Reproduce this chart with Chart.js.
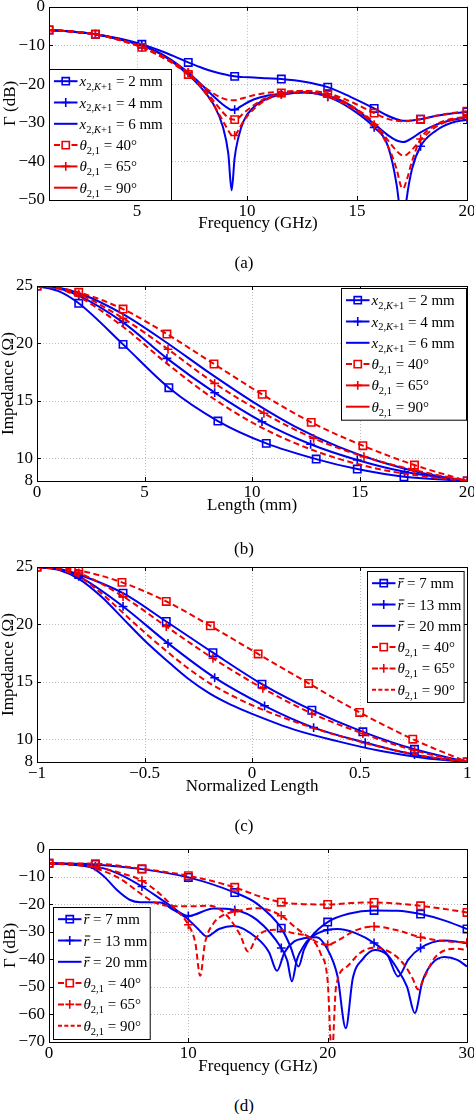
<!DOCTYPE html>
<html>
<head>
<meta charset="utf-8">
<script src="https://cdn.jsdelivr.net/npm/chart.js@4"></script>
<style>
  body { margin: 0; background: #fff; width: 474px; height: 1114px; position: relative; overflow: hidden; font-family: "Liberation Serif", serif; }
  canvas { position: absolute; left: 0; }
  .cap { position: absolute; left: 0; width: 488px; text-align: center; font-size: 17px; line-height: 20px; color: #000; }
</style>
</head>
<body>
<canvas id="chartA" width="474" height="240" style="top:0px"></canvas>
<canvas id="chartB" width="474" height="250" style="top:270px"></canvas>
<canvas id="chartC" width="474" height="250" style="top:550px"></canvas>
<canvas id="chartD" width="474" height="250" style="top:835px"></canvas>
<div class="cap" style="top:253px">(a)</div>
<div class="cap" style="top:539px">(b)</div>
<div class="cap" style="top:816px">(c)</div>
<div class="cap" style="top:1096px">(d)</div>
<script>
// ---- (a) reflection vs frequency ----
const aFreq = [1, 2, 3.11, 4.2, 5.22, 6.3, 7.33, 8, 8.5, 8.9, 9.15, 9.3, 9.44, 9.6, 9.85, 10.3, 10.9, 11.56, 12.6, 13.67, 14.7, 15.78, 16.4, 16.8, 17, 17.1, 17.25, 17.5, 17.89, 18.6, 19.3, 20];
const aMarks = [1, 3.11, 5.22, 7.33, 9.44, 11.56, 13.67, 15.78, 17.89, 20];
const aX2 = [-6, -6.4, -7.1, -8.2, -9.7, -11.9, -14.4, -15.9, -16.8, -17.4, -17.7, -17.85, -18, -18.1, -18.2, -18.3, -18.5, -18.7, -19.4, -20.8, -23.3, -26.3, -28.2, -29.1, -29.4, -29.5, -29.5, -29.4, -29.1, -28.2, -27.6, -27.2];
const aX4 = [-6, -6.4, -7.1, -8.4, -10, -12.8, -17, -20.5, -23.3, -25.3, -26.3, -26.7, -26.6, -26.2, -25.3, -24, -23, -22.5, -22.1, -23.3, -26.3, -31.2, -36, -46, -55, -58, -50, -42, -36.1, -32, -30, -29.2];
const aX6 = [-6, -6.4, -7.1, -8.4, -10, -13, -17.6, -21.5, -25.5, -31, -38, -47.5, -39, -34, -29.5, -26, -23.8, -22.8, -22.2, -23, -25.5, -30.3, -33.2, -34.6, -34.9, -35, -34.8, -34, -32.5, -30.5, -29.3, -28.6];
const aT40 = [-6, -6.4, -7.1, -8.6, -10.5, -13.5, -17.5, -21, -24.5, -27.3, -28.7, -29.1, -29.2, -28.8, -27.5, -25.5, -23.5, -22.3, -21.8, -22.4, -24.5, -27.5, -29, -29.5, -29.6, -29.6, -29.6, -29.4, -29.1, -28.2, -27.5, -27];
const aT65 = [-6, -6.4, -7.1, -8.6, -10.5, -13.5, -17, -21.5, -25.5, -29.5, -32, -33.2, -33.3, -32, -29.5, -26.5, -24, -22.7, -22.1, -23.3, -26, -30.5, -36, -42, -46.5, -47, -45, -40, -34.2, -30.5, -29, -28.5];
const aT90 = [-6, -6.4, -7.1, -8.5, -10.3, -13.2, -17.2, -20.5, -22.5, -23.7, -24.1, -24.2, -24.2, -24, -23.6, -22.9, -22.3, -22, -21.8, -22.6, -25.5, -30, -34.5, -37.3, -38.3, -38.5, -38.3, -37, -34.5, -31, -29.3, -28.5];
const aXTicks = [5, 10, 15, 20];
const aYTicks = [0, -10, -20, -30, -40, -50];

// ---- (b) impedance vs length ----
const bExtra = [1];
const bL2 = [0, 1, 1.94, 4, 6.13, 8.41, 10.66, 12.98, 14.89, 17.06, 20];
const bZ2 = [25, 24.55, 23.49, 19.91, 16.13, 13.23, 11.28, 9.91, 9.04, 8.37, 8];
const bL4 = [0, 1, 1.94, 4, 6.04, 8.26, 10.46, 12.72, 14.89, 17.09, 20];
const bZ4 = [25, 24.8, 24.16, 21.83, 18.69, 15.7, 13.17, 11.2, 9.83, 8.8, 8];
const bL6 = [0, 1, 2, 4, 6, 8, 10, 12, 14, 16, 18, 20];
const bZ6 = [25, 24.85, 24.35, 22.55, 20.1, 17.45, 14.95, 12.75, 11, 9.65, 8.65, 8];
const bL40 = [0, 1, 1.94, 4, 6.04, 8.23, 10.47, 12.75, 15.15, 17.55, 20];
const bZ40 = [25, 24.85, 24.45, 22.99, 20.81, 18.2, 15.55, 13.11, 11.08, 9.39, 8];
const bL65 = [0, 1, 1.94, 4, 6.09, 8.26, 10.55, 12.86, 15.2, 17.55, 20];
const bZ65 = [25, 24.83, 24.3, 22.18, 19.48, 16.51, 13.9, 11.72, 10.12, 8.95, 8];
const bL90 = [0, 1, 2, 4, 6, 8, 10, 12, 14, 16, 18, 20];
const bZ90 = [25, 24.75, 24, 21.45, 18.3, 15.45, 13.1, 11.3, 9.95, 9, 8.4, 8];
const bXTicks = [0, 5, 10, 15, 20];
const bYTicks = [8, 10, 15, 20, 25];

// ---- (c) impedance vs normalized length ----
const cExtra = [-0.9];
const cN7 = [-1, -0.9, -0.806, -0.6, -0.399, -0.182, 0.046, 0.278, 0.515, 0.755, 1];
const cZ7 = [25, 24.85, 24.35, 22.72, 20.25, 17.53, 14.79, 12.52, 10.63, 9.11, 8];
const cN13 = [-1, -0.9, -0.806, -0.6, -0.391, -0.174, 0.058, 0.286, 0.526, 0.755, 1];
const cZ13 = [25, 24.8, 24.18, 21.56, 18.35, 15.35, 12.9, 11, 9.69, 8.64, 8];
const cN20 = [-1, -0.9, -0.8, -0.7, -0.6, -0.5, -0.4, -0.3, -0.2, -0.1, 0, 0.2, 0.4, 0.6, 0.8, 1];
const cZ20 = [25, 24.75, 23.9, 22.4, 20.5, 18.6, 16.9, 15.3, 14, 13, 12.2, 10.8, 9.8, 8.95, 8.35, 8];
const cN40 = [-1, -0.9, -0.806, -0.605, -0.399, -0.194, 0.028, 0.263, 0.5, 0.747, 1];
const cZ40 = [25, 24.92, 24.71, 23.66, 22, 19.87, 17.42, 14.85, 12.32, 9.99, 8];
const cN65 = [-1, -0.9, -0.806, -0.6, -0.399, -0.182, 0.05, 0.278, 0.515, 0.755, 1];
const cZ65 = [25, 24.85, 24.48, 22.43, 19.81, 17.04, 14.42, 12.23, 10.48, 9, 8];
const cN90 = [-1, -0.9, -0.8, -0.7, -0.6, -0.5, -0.4, -0.3, -0.2, -0.1, 0, 0.2, 0.4, 0.6, 0.8, 1];
const cZ90 = [25, 24.8, 24.1, 22.7, 21, 19.3, 17.7, 16.2, 14.9, 13.85, 12.95, 11.5, 10.3, 9.3, 8.5, 8];
const cXTicks = [-1, -0.5, 0, 0.5, 1];
const cYTicks = [8, 10, 15, 20, 25];

// ---- (d) reflection vs frequency, wide band ----
const dMarks = [0, 3.33, 6.67, 10, 13.33, 16.67, 20, 23.33, 26.67, 30];
const dF7 = [0, 3.33, 6.67, 10, 13.33, 14.92, 16.67, 17.3, 17.91, 18.3, 18.75, 20, 21.5, 23.33, 25, 26.67, 28.3, 30];
const dR7 = [-5.2, -5.6, -7.3, -10.3, -15.8, -19.8, -28.7, -35, -42.6, -36.5, -32.3, -26.5, -23.5, -22.3, -22.4, -23.6, -25.8, -29];
const dF13 = [0, 3.33, 5, 6.67, 8.5, 10, 11.8, 13.33, 14.92, 16.67, 17.1, 17.43, 17.8, 18.3, 18.75, 20, 20.7, 22, 23.33, 24.3, 25.05, 25.8, 26.67, 28.3, 30];
const dR13 = [-5.2, -6.3, -9, -13.6, -19.8, -24.3, -21.6, -22.1, -25.7, -35.9, -40.5, -48, -40, -35, -32.3, -29.3, -29, -30.5, -34.1, -38.5, -46.2, -40, -35.9, -33.2, -34.1];
const dF20 = [0, 1.5, 3.18, 4, 4.86, 5.82, 6.54, 7.97, 8.93, 9.89, 10.7, 11.33, 12.2, 13.24, 14.92, 15.8, 16.36, 16.9, 17.6, 18.3, 19.2, 20, 20.7, 21.3, 21.8, 22.5, 23.4, 24.3, 25, 25.7, 26.25, 26.8, 27.5, 28.4, 29.3, 30];
const dR20 = [-5.2, -5.6, -7, -10.2, -14.8, -18.5, -19.3, -19.4, -22.1, -25.1, -29, -31.7, -29, -27.9, -32.3, -37.5, -44.2, -37.5, -33.5, -32.4, -32, -36.5, -46, -65, -47, -40, -36.6, -38.5, -43.5, -50, -59.5, -48, -41.5, -39.2, -40.2, -42.6];
const dF40 = [0, 3.33, 6.67, 10, 13.33, 15, 16.67, 18.3, 20, 21.7, 23.33, 25, 26.67, 28.3, 30];
const dR40 = [-5.2, -5.3, -7.2, -9.7, -13.9, -17, -19.3, -20, -20.1, -19.6, -19.4, -19.8, -20.6, -21.7, -23];
const dF65 = [0, 3.33, 5, 6.67, 8, 9, 10, 10.5, 10.85, 11.2, 11.8, 12.5, 13.33, 15, 16.67, 17.7, 18.75, 19.5, 20, 20.8, 22, 23.33, 25, 26.67, 28.3, 30];
const dR65 = [-5.2, -6.5, -8.5, -11.5, -16.5, -21.5, -27.5, -34, -46, -34, -27, -24, -22.7, -21.5, -24.2, -28.5, -32.3, -34.3, -34.7, -33, -29.5, -28.1, -29.5, -32, -33.4, -33.9];
const dF90 = [0, 2, 3.33, 5, 6.67, 7.5, 8.5, 10, 11.5, 12.3, 13, 13.7, 14.3, 14.9, 15.7, 16.5, 17.5, 18.75, 19.5, 20, 20.3, 20.6, 21.4, 22.3, 23.3, 24.5, 25.5, 26.1, 26.5, 26.9, 27.6, 28.3, 29.2, 30];
const dR90 = [-5.2, -5.8, -7, -10.5, -16.5, -19.2, -20.6, -20.8, -20.6, -22, -25.5, -31, -37.2, -32, -29.5, -29.3, -30.5, -32.3, -38, -48, -75, -50, -42.6, -37.8, -35.8, -37.5, -42, -47, -51, -47, -40, -37, -36.2, -36.6];
const dXTicks = [0, 10, 20, 30];
const dYTicks = [0, -10, -20, -30, -40, -50, -60, -70];

const xNames = ['2', '4', '6'];
const rNames = ['7', '13', '20'];
const thetaNames = ['40', '65', '90'];

const BLUE = '#0000ee';
const RED = '#ee0000';
const FONT = '"Liberation Serif", "DejaVu Serif", serif';
const DASH = [6, 3.5];

function series(xs, ys, color, dash, mark, isMark) {
  return {
    data: xs.map((x, i) => ({ x: x, y: ys[i] })),
    showLine: true,
    borderColor: color,
    backgroundColor: 'rgba(0,0,0,0)',
    borderWidth: 2,
    borderDash: dash ? DASH : [],
    cubicInterpolationMode: 'monotone',
    pointStyle: mark || 'circle',
    pointRadius: c => (mark && isMark(c.raw.x)) ? (mark === 'rect' ? 5.2 : 4.4) : 0,
    pointHoverRadius: 0,
    pointBorderColor: color,
    pointBackgroundColor: 'rgba(0,0,0,0)',
    pointBorderWidth: 1.6
  };
}

const fmt = v => String(v).replace('-', '\u2212');

function axis(min, max, ticks, title, size, titlePad, horizontal) {
  const font = { family: FONT, size: 17 };
  return {
    type: 'linear', min: min, max: max,
    grid: { display: false, drawTicks: false },
    border: { display: false },
    ticks: { font: font, color: '#000', padding: horizontal ? 1 : 4, autoSkip: false, maxRotation: 0, callback: v => fmt(v) },
    afterBuildTicks: s => { s.ticks = ticks.map(v => ({ value: v })); },
    afterFit: s => {
      if (horizontal) { s.height = size; s.paddingLeft = 0; s.paddingRight = 0; }
      else { s.width = size; s.paddingTop = 0; s.paddingBottom = 0; }
    },
    title: { display: true, text: title, font: font, color: '#000',
      padding: horizontal ? { top: 0, bottom: titlePad } : { top: titlePad, bottom: 0 } }
  };
}

function drawLabel(ctx, parts, x, y) {
  for (const p of parts) {
    const t = p[0], f = p[1];
    const it = f.indexOf('i') >= 0, sub = f.indexOf('s') >= 0, bar = f.indexOf('o') >= 0;
    ctx.font = (it ? 'italic ' : '') + (sub ? 10.5 : 15) + 'px ' + FONT;
    ctx.fillText(t, x, y + (sub ? 3.8 : 0));
    const w = ctx.measureText(t).width;
    if (bar) ctx.fillRect(x + 1.5, y - 10, w - 0.5, 1);
    x += w;
  }
}

function drawMark(ctx, m, cx, cy) {
  ctx.setLineDash([]);
  ctx.lineWidth = 1.6;
  ctx.beginPath();
  if (m === 'rect') ctx.rect(cx - 3.6, cy - 3.6, 7.2, 7.2);
  else { ctx.moveTo(cx - 4.4, cy); ctx.lineTo(cx + 4.4, cy); ctx.moveTo(cx, cy - 4.4); ctx.lineTo(cx, cy + 4.4); }
  ctx.stroke();
}

const frame = {
  id: 'frame',
  beforeDatasetsDraw(chart) {
    const { ctx, chartArea: a, scales } = chart;
    ctx.save();
    ctx.strokeStyle = '#bdbdbd';
    ctx.lineWidth = 1;
    ctx.setLineDash([1, 2]);
    scales.x.ticks.forEach(t => {
      const px = Math.round(scales.x.getPixelForValue(t.value)) + 0.5;
      if (px > a.left + 2 && px < a.right - 2) { ctx.beginPath(); ctx.moveTo(px, a.top); ctx.lineTo(px, a.bottom); ctx.stroke(); }
    });
    scales.y.ticks.forEach(t => {
      const py = Math.round(scales.y.getPixelForValue(t.value)) + 0.5;
      if (py > a.top + 2 && py < a.bottom - 2) { ctx.beginPath(); ctx.moveTo(a.left, py); ctx.lineTo(a.right, py); ctx.stroke(); }
    });
    ctx.restore();
  },
  afterDatasetsDraw(chart, args, opts) {
    const { ctx, chartArea: a, scales } = chart;
    ctx.save();
    ctx.strokeStyle = '#000';
    ctx.lineWidth = 1;
    ctx.strokeRect(Math.round(a.left) + 0.5, Math.round(a.top) + 0.5, Math.round(a.right - a.left), Math.round(a.bottom - a.top));
    ctx.beginPath();
    scales.x.ticks.forEach(t => {
      const px = Math.round(scales.x.getPixelForValue(t.value)) + 0.5;
      ctx.moveTo(px, a.bottom); ctx.lineTo(px, a.bottom - 4);
      ctx.moveTo(px, a.top); ctx.lineTo(px, a.top + 4);
    });
    scales.y.ticks.forEach(t => {
      const py = Math.round(scales.y.getPixelForValue(t.value)) + 0.5;
      ctx.moveTo(a.left, py); ctx.lineTo(a.left + 4, py);
      ctx.moveTo(a.right, py); ctx.lineTo(a.right - 4, py);
    });
    ctx.stroke();

    // legend box
    const b = opts.box;
    const bx = Math.round(b.right ? a.right - b.dx - b.w : a.left + b.dx) + 0.5;
    const by = Math.round(b.bottom ? a.bottom - b.dy - b.h : a.top + b.dy) + 0.5;
    ctx.fillStyle = '#fff';
    ctx.fillRect(bx, by, b.w, b.h);
    ctx.strokeStyle = '#000';
    ctx.lineWidth = 1;
    ctx.strokeRect(bx, by, b.w, b.h);
    opts.items.forEach((it, k) => {
      const cy = by + 11.7 + 21.3 * k;
      const x0 = bx + 4.5, x1 = bx + 28, cx = (x0 + x1) / 2;
      ctx.strokeStyle = it.c;
      ctx.lineWidth = 2;
      ctx.beginPath();
      if (it.s === 'split') {
        ctx.setLineDash([]);
        ctx.moveTo(x0, cy); ctx.lineTo(x0 + 6, cy);
        ctx.moveTo(x1 - 6, cy); ctx.lineTo(x1, cy);
      } else if (it.s === 'dash') {
        ctx.setLineDash([4, 2.33]);
        ctx.moveTo(x0, cy); ctx.lineTo(x1, cy);
      } else {
        ctx.setLineDash([]);
        ctx.moveTo(x0, cy); ctx.lineTo(x1, cy);
      }
      ctx.stroke();
      if (it.m) drawMark(ctx, it.m, cx, cy);
      ctx.fillStyle = '#000';
      ctx.textBaseline = 'alphabetic';
      drawLabel(ctx, it.lab, bx + 30, cy + 5);
    });
    ctx.restore();
  }
};

const labX = v => [['x', 'i'], ['2,', 's'], ['K', 'si'], ['+1', 's'], [' = ' + v + ' mm', '']];
const labR = v => [['r', 'io'], [' = ' + v + ' mm', '']];
const labT = v => [['\u03b8', 'i'], ['2,1', 's'], [' = ' + v + '\u00b0', '']];

function legendXT() {
  return [
    { c: BLUE, s: 'solid', m: 'rect', lab: labX(xNames[0]) },
    { c: BLUE, s: 'solid', m: 'cross', lab: labX(xNames[1]) },
    { c: BLUE, s: 'solid', m: null, lab: labX(xNames[2]) },
    { c: RED, s: 'split', m: 'rect', lab: labT(thetaNames[0]) },
    { c: RED, s: 'solid', m: 'cross', lab: labT(thetaNames[1]) },
    { c: RED, s: 'solid', m: null, lab: labT(thetaNames[2]) }
  ];
}
function legendRT() {
  return [
    { c: BLUE, s: 'solid', m: 'rect', lab: labR(rNames[0]) },
    { c: BLUE, s: 'solid', m: 'cross', lab: labR(rNames[1]) },
    { c: BLUE, s: 'solid', m: null, lab: labR(rNames[2]) },
    { c: RED, s: 'split', m: 'rect', lab: labT(thetaNames[0]) },
    { c: RED, s: 'split', m: 'cross', lab: labT(thetaNames[1]) },
    { c: RED, s: 'dash', m: null, lab: labT(thetaNames[2]) }
  ];
}

function panel(id, datasets, pad, xs, ys, box, items) {
  new Chart(document.getElementById(id), {
    type: 'scatter',
    data: { datasets: datasets },
    options: {
      responsive: false,
      animation: false,
      events: [],
      layout: { padding: { top: pad.top, right: pad.right, left: 0, bottom: 0 } },
      plugins: { legend: { display: false }, tooltip: { enabled: false }, frame: { box: box, items: items } },
      scales: { x: xs, y: ys }
    },
    plugins: [frame]
  });
}

const inA = x => aMarks.includes(x);
const inD = x => dMarks.includes(x);
const inB = x => !bExtra.includes(x);
const inC = x => !cExtra.includes(x);

panel('chartA', [
  series(aFreq, aT40, RED, true, 'rect', inA),
  series(aFreq, aT65, RED, true, 'cross', inA),
  series(aFreq, aT90, RED, true, null, inA),
  series(aFreq, aX2, BLUE, false, 'rect', inA),
  series(aFreq, aX4, BLUE, false, 'cross', inA),
  series(aFreq, aX6, BLUE, false, null, inA)
], { top: 5, right: 7 },
  axis(1, 20, aXTicks, 'Frequency (GHz)', 40, 5.8, true),
  axis(-50, 0, aYTicks, '\u0393 (dB)', 49, 0, false),
  { dx: 0, dy: 0, w: 122, h: 131, bottom: true }, legendXT());

panel('chartB', [
  series(bL40, bZ40, RED, true, 'rect', inB),
  series(bL65, bZ65, RED, true, 'cross', inB),
  series(bL90, bZ90, RED, true, null, inB),
  series(bL2, bZ2, BLUE, false, 'rect', inB),
  series(bL4, bZ4, BLUE, false, 'cross', inB),
  series(bL6, bZ6, BLUE, false, null, inB)
], { top: 16, right: 6 },
  axis(0, 20, bXTicks, 'Length (mm)', 39, 3.8, true),
  axis(8, 25, bYTicks, 'Impedance (\u03a9)', 37, -2, false),
  { dx: 1.3, dy: 2.3, w: 125, h: 131.7, right: true }, legendXT());

panel('chartC', [
  series(cN40, cZ40, RED, true, 'rect', inC),
  series(cN65, cZ65, RED, true, 'cross', inC),
  series(cN90, cZ90, RED, true, null, inC),
  series(cN7, cZ7, BLUE, false, 'rect', inC),
  series(cN13, cZ13, BLUE, false, 'cross', inC),
  series(cN20, cZ20, BLUE, false, null, inC)
], { top: 17, right: 6 },
  axis(-1, 1, cXTicks, 'Normalized Length', 38, 2.8, true),
  axis(8, 25, cYTicks, 'Impedance (\u03a9)', 37, -2, false),
  { dx: 3.7, dy: 3.7, w: 96.6, h: 131, right: true }, legendRT());

panel('chartD', [
  series(dF40, dR40, RED, true, 'rect', inD),
  series(dF65, dR65, RED, true, 'cross', inD),
  series(dF90, dR90, RED, true, null, inD),
  series(dF7, dR7, BLUE, false, 'rect', inD),
  series(dF13, dR13, BLUE, false, 'cross', inD),
  series(dF20, dR20, BLUE, false, null, inD)
], { top: 14, right: 7 },
  axis(0, 30, dXTicks, 'Frequency (GHz)', 43, 7.8, true),
  axis(-70, 0, dYTicks, '\u0393 (dB)', 49, 0, false),
  { dx: 4.3, dy: 2.7, w: 96.7, h: 132, bottom: true }, legendRT());
</script>
</body>
</html>
